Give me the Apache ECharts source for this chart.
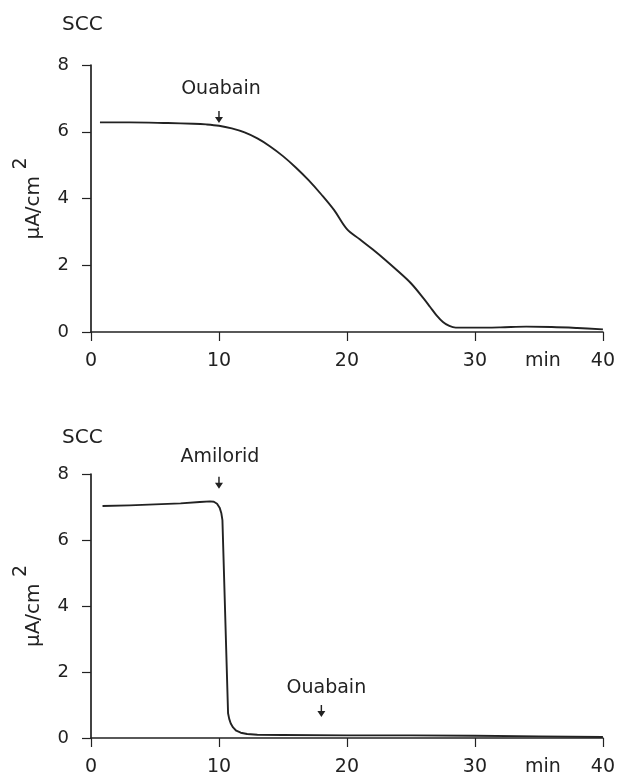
<!DOCTYPE html>
<html>
<head>
<meta charset="utf-8">
<script src="https://cdn.jsdelivr.net/npm/echarts@6/dist/echarts.min.js"></script>
<style>
html,body{margin:0;padding:0;background:#fff;}
#chart{width:618px;height:783px;}
</style>
</head>
<body>
<div id="chart"></div>
<script>
// ---- data ----
var xTicks = [0, 10, 20, 30, 40];
var yTicks = [0, 2, 4, 6, 8];

// top panel: Ouabain
var topTime  = [0.7, 3, 6, 8, 9, 10, 11, 12, 13, 14, 15, 16, 17, 18, 19, 20, 21, 22, 23, 24, 25, 26, 26.5, 27, 27.5, 28, 28.5, 30, 32, 34, 36, 38, 40];
var topValue = [6.28, 6.28, 6.26, 6.24, 6.22, 6.18, 6.1, 5.98, 5.8, 5.56, 5.27, 4.93, 4.55, 4.12, 3.65, 3.08, 2.78, 2.48, 2.16, 1.82, 1.46, 1.0, 0.75, 0.5, 0.3, 0.18, 0.13, 0.13, 0.14, 0.16, 0.15, 0.12, 0.08];
var topAnnoNames = ['Ouabain'];
var topAnnoTime  = [10];
var topAnnoValue = [6.26];

// bottom panel: Amilorid then Ouabain
var botTime  = [0.9, 3, 5, 7, 8.5, 9.3, 9.6, 9.85, 10.05, 10.18, 10.27, 10.71, 10.8, 10.92, 11.1, 11.35, 11.7, 12.2, 13, 15, 20, 25, 30, 35, 40];
var botValue = [7.03, 7.05, 7.08, 7.11, 7.15, 7.17, 7.16, 7.1, 6.98, 6.82, 6.6, 0.75, 0.58, 0.44, 0.32, 0.22, 0.16, 0.12, 0.1, 0.09, 0.08, 0.08, 0.07, 0.05, 0.03];
var botAnnoNames = ['Amilorid', 'Ouabain'];
var botAnnoTime  = [10, 18];
var botAnnoValue = [7.55, 0.64];

var panelTitle = 'SCC';
var yName = 'μA/cm';
var yNameSup = '2';
var xName = 'min';

// ---- styling ----
var FONT = 'DejaVu Sans';
var INK = '#222';
var arrowPath = 'path://M4.1,0 L5.9,0 L5.9,8 L10,8 L5,16 L0,8 L4.1,8 Z';

function zip(a, b) { return a.map(function (v, i) { return [v, b[i]]; }); }

function annoData(names, times, values, dists, offs) {
  return names.map(function (n, i) {
    return {
      name: n,
      coord: [times[i], values[i]],
      label: { distance: dists[i], offset: [offs[i], 0] }
    };
  });
}

function xAxis(gi) {
  return {
    gridIndex: gi, type: 'value', min: 0, max: 40, interval: 10,
    axisLine: { onZero: false, lineStyle: { color: INK, width: 1.7 } },
    axisTick: { show: true, length: 9, lineStyle: { color: INK, width: 1.2 } },
    axisLabel: { fontFamily: FONT, fontSize: 19, color: INK, margin: 20,
      customValues: xTicks },
    splitLine: { show: false },
    name: xName, nameLocation: 'end', nameGap: -60,
    nameTextStyle: { fontFamily: FONT, fontSize: 19, color: INK, align: 'center',
      verticalAlign: 'top', padding: [20, 0, 0, 0] }
  };
}
function yAxis(gi) {
  return {
    gridIndex: gi, type: 'value', min: 0, max: 8, interval: 2,
    axisLine: { show: true, onZero: false, lineStyle: { color: INK, width: 1.7 } },
    axisTick: { show: true, length: 9, lineStyle: { color: INK, width: 1.2 } },
    axisLabel: { fontFamily: FONT, fontSize: 18, color: INK, margin: 22 },
    splitLine: { show: false },
    name: '{m|' + yName + '} {s|' + yNameSup + '}',
    nameLocation: 'middle', nameGap: 36,
    nameTextStyle: {
      fontFamily: FONT, fontSize: 20, color: INK,
      rich: {
        m: { fontFamily: FONT, fontSize: 20, color: INK },
        s: { fontFamily: FONT, fontSize: 19, color: INK, padding: [0, 0, 24, 0], verticalAlign: 'top' }
      }
    }
  };
}

var chart = echarts.init(document.getElementById('chart'), null, { renderer: 'canvas' });
chart.setOption({
  backgroundColor: '#ffffff',
  animation: false,
  title: [
    { text: panelTitle, left: 62, top: 15, padding: 0,
      textStyle: { fontFamily: FONT, fontSize: 20, fontWeight: 'normal', color: INK } },
    { text: panelTitle, left: 62, top: 428, padding: 0,
      textStyle: { fontFamily: FONT, fontSize: 20, fontWeight: 'normal', color: INK } }
  ],
  grid: [
    { left: 91, top: 65, width: 512, height: 267 },
    { left: 91, top: 474, width: 512, height: 264 }
  ],
  xAxis: [xAxis(0), xAxis(1)],
  yAxis: [yAxis(0), yAxis(1)],
  series: [
    {
      type: 'line', xAxisIndex: 0, yAxisIndex: 0,
      data: zip(topTime, topValue),
      showSymbol: false, smooth: 0.35,
      lineStyle: { color: INK, width: 1.9 },
      markPoint: {
        symbol: arrowPath, symbolSize: [8, 12], symbolOffset: [0, -6],
        itemStyle: { color: INK },
        label: { show: true, position: 'top', formatter: '{b}',
          fontFamily: FONT, fontSize: 19, color: INK },
        data: annoData(topAnnoNames, topAnnoTime, topAnnoValue, [13], [2])
      }
    },
    {
      type: 'line', xAxisIndex: 1, yAxisIndex: 1,
      data: zip(botTime, botValue),
      showSymbol: false, smooth: false,
      lineStyle: { color: INK, width: 1.9, join: 'round' },
      markPoint: {
        symbol: arrowPath, symbolSize: [8, 12], symbolOffset: [0, -6],
        itemStyle: { color: INK },
        label: { show: true, position: 'top', formatter: '{b}',
          fontFamily: FONT, fontSize: 19, color: INK },
        data: annoData(botAnnoNames, botAnnoTime, botAnnoValue, [10, 7], [1, 5])
      }
    }
  ]
});
</script>
</body>
</html>
